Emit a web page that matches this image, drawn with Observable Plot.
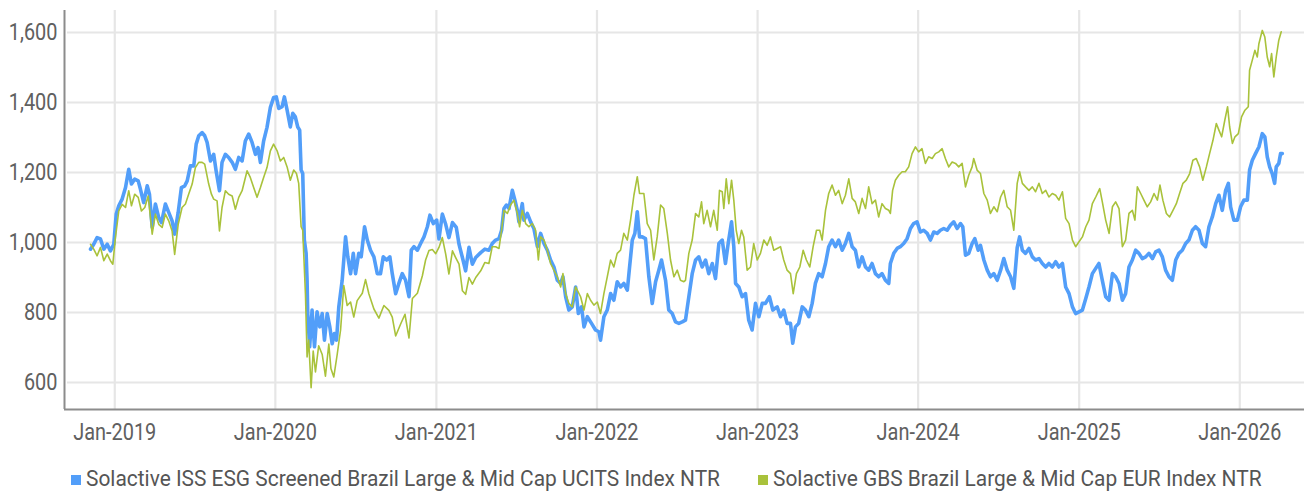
<!DOCTYPE html>
<html>
<head>
<meta charset="utf-8">
<script src="https://cdn.jsdelivr.net/npm/d3@7"></script>
<script src="https://cdn.jsdelivr.net/npm/@observablehq/plot@0.6"></script>
<style>
  html, body { margin: 0; padding: 0; background: #fff; }
  body { width: 1304px; height: 492px; overflow: hidden; font-family: Roboto, sans-serif; }
  #chart svg { display: block; }
  #legend { position: relative; height: 37px; font-size: 22px; color: #555; white-space: nowrap; }
  .item { position: absolute; top: 11px; height: 26px; }
  .swatch { position: absolute; left: 0; top: 9px; width: 10px; height: 10px; }
  .label { position: absolute; left: 15px; top: 0; line-height: 26px; display: inline-block; transform-origin: 0 50%; }
</style>
</head>
<body>
<div id="chart"></div>
<div id="legend"></div>
<script>
// ---- data (dates as decimal years) ----
const seriesNames = [
  "Solactive ISS ESG Screened Brazil Large & Mid Cap UCITS Index NTR",
  "Solactive GBS Brazil Large & Mid Cap EUR Index NTR"
];
const seriesColors = ["#529ef9", "#a9c23b"];

const issDates = [2018.849,2018.869,2018.890,2018.911,2018.932,2018.953,2018.973,2018.994,2019.009,2019.025,2019.046,2019.067,2019.087,2019.104,2019.124,2019.146,2019.160,2019.180,2019.202,2019.216,2019.233,2019.253,2019.274,2019.291,2019.315,2019.336,2019.357,2019.373,2019.395,2019.415,2019.436,2019.451,2019.471,2019.492,2019.507,2019.523,2019.544,2019.560,2019.575,2019.596,2019.616,2019.631,2019.652,2019.668,2019.689,2019.709,2019.731,2019.751,2019.772,2019.793,2019.813,2019.834,2019.855,2019.876,2019.892,2019.907,2019.927,2019.948,2019.969,2019.989,2020.006,2020.021,2020.042,2020.056,2020.073,2020.093,2020.108,2020.124,2020.139,2020.151,2020.160,2020.170,2020.180,2020.191,2020.197,2020.201,2020.213,2020.228,2020.243,2020.259,2020.276,2020.291,2020.305,2020.322,2020.338,2020.353,2020.367,2020.380,2020.394,2020.415,2020.436,2020.450,2020.467,2020.484,2020.498,2020.518,2020.533,2020.554,2020.571,2020.591,2020.612,2020.633,2020.653,2020.670,2020.691,2020.711,2020.726,2020.747,2020.767,2020.788,2020.809,2020.830,2020.844,2020.861,2020.882,2020.902,2020.923,2020.944,2020.960,2020.981,2021.002,2021.016,2021.037,2021.058,2021.078,2021.100,2021.124,2021.141,2021.162,2021.182,2021.203,2021.224,2021.245,2021.276,2021.302,2021.327,2021.348,2021.369,2021.390,2021.406,2021.421,2021.436,2021.452,2021.473,2021.489,2021.504,2021.514,2021.535,2021.545,2021.566,2021.587,2021.607,2021.629,2021.649,2021.670,2021.691,2021.711,2021.732,2021.753,2021.774,2021.788,2021.805,2021.825,2021.846,2021.867,2021.884,2021.904,2021.919,2021.940,2021.966,2021.991,2022.012,2022.022,2022.043,2022.064,2022.085,2022.105,2022.126,2022.147,2022.167,2022.189,2022.203,2022.220,2022.236,2022.251,2022.265,2022.282,2022.302,2022.323,2022.344,2022.365,2022.385,2022.402,2022.427,2022.447,2022.469,2022.489,2022.510,2022.531,2022.551,2022.572,2022.593,2022.614,2022.634,2022.655,2022.676,2022.696,2022.718,2022.738,2022.759,2022.780,2022.800,2022.817,2022.838,2022.852,2022.863,2022.883,2022.904,2022.925,2022.945,2022.966,2022.987,2023.008,2023.029,2023.049,2023.074,2023.095,2023.122,2023.143,2023.163,2023.184,2023.205,2023.219,2023.236,2023.256,2023.278,2023.298,2023.319,2023.340,2023.360,2023.381,2023.402,2023.423,2023.443,2023.464,2023.485,2023.505,2023.527,2023.547,2023.568,2023.589,2023.609,2023.630,2023.651,2023.672,2023.692,2023.713,2023.734,2023.754,2023.775,2023.796,2023.817,2023.827,2023.848,2023.869,2023.889,2023.910,2023.931,2023.952,2023.972,2023.993,2024.014,2024.034,2024.056,2024.076,2024.097,2024.118,2024.138,2024.159,2024.180,2024.200,2024.221,2024.242,2024.263,2024.277,2024.294,2024.314,2024.335,2024.352,2024.373,2024.387,2024.408,2024.429,2024.449,2024.470,2024.491,2024.512,2024.532,2024.553,2024.574,2024.594,2024.615,2024.630,2024.647,2024.667,2024.688,2024.709,2024.729,2024.750,2024.771,2024.792,2024.812,2024.833,2024.854,2024.874,2024.896,2024.916,2024.937,2024.958,2024.978,2024.999,2025.020,2025.041,2025.061,2025.082,2025.103,2025.123,2025.144,2025.165,2025.186,2025.207,2025.227,2025.248,2025.269,2025.289,2025.310,2025.331,2025.352,2025.372,2025.393,2025.414,2025.434,2025.456,2025.476,2025.497,2025.518,2025.538,2025.559,2025.580,2025.601,2025.621,2025.642,2025.663,2025.683,2025.705,2025.725,2025.746,2025.767,2025.787,2025.808,2025.829,2025.850,2025.870,2025.891,2025.912,2025.929,2025.943,2025.963,2025.985,2026.005,2026.026,2026.047,2026.061,2026.078,2026.098,2026.119,2026.140,2026.156,2026.171,2026.186,2026.202,2026.217,2026.227,2026.243,2026.254,2026.265];
const issValues = [981,995,1014,1010,981,995,976,995,1081,1105,1124,1157,1209,1167,1181,1176,1152,1114,1162,1138,1043,1110,1071,1057,1110,1086,1062,1024,1086,1157,1162,1176,1219,1219,1281,1305,1314,1305,1286,1233,1252,1205,1148,1229,1252,1243,1229,1209,1243,1233,1290,1310,1286,1252,1271,1229,1290,1329,1386,1414,1416,1383,1388,1416,1378,1330,1369,1359,1330,1321,1207,1197,1007,969,892,797,702,807,702,802,759,797,721,797,759,711,740,721,816,892,1016,959,911,969,911,969,959,1045,1007,978,959,911,911,959,950,959,911,854,883,911,892,845,978,988,978,997,1016,1045,1078,1054,1064,1010,1081,1052,1014,1057,1043,995,957,919,986,938,957,971,981,978,997,1007,1011,1035,1097,1107,1097,1149,1121,1092,1059,1111,1064,1083,1059,1040,988,1026,997,978,950,930,892,883,902,845,807,816,873,797,816,759,788,769,750,745,721,788,807,854,835,888,873,883,864,930,1007,1026,1088,1016,1016,1011,902,826,888,921,950,892,807,797,773,769,773,778,845,911,950,959,930,950,911,940,897,997,1007,940,997,1059,988,883,873,845,854,778,750,826,788,826,826,845,807,816,788,807,769,769,712,759,769,816,807,788,826,883,911,902,940,988,1007,988,1007,978,997,1026,988,978,930,959,930,921,940,911,902,911,892,883,940,969,983,988,997,1011,1040,1054,1059,1030,1035,1026,1007,1030,1026,1035,1040,1035,1049,1059,1040,1054,1045,964,969,997,1011,978,992,950,921,902,911,892,921,954,921,902,869,985,1016,978,969,983,959,950,954,940,930,940,930,945,930,940,873,854,816,797,802,807,840,873,911,926,940,892,845,835,911,902,883,835,854,930,950,978,969,954,959,969,954,973,978,959,921,902,892,950,969,978,997,1007,1035,1045,1035,997,988,1045,1073,1111,1135,1092,1149,1169,1102,1064,1064,1102,1121,1121,1207,1235,1254,1273,1311,1302,1245,1216,1197,1169,1216,1226,1254,1254];

const gbsDates = [2018.849,2018.869,2018.890,2018.911,2018.932,2018.953,2018.973,2018.988,2019.004,2019.025,2019.046,2019.067,2019.087,2019.104,2019.124,2019.146,2019.166,2019.187,2019.208,2019.233,2019.253,2019.274,2019.295,2019.315,2019.336,2019.357,2019.373,2019.395,2019.419,2019.440,2019.460,2019.482,2019.502,2019.523,2019.544,2019.560,2019.585,2019.602,2019.616,2019.637,2019.652,2019.668,2019.689,2019.709,2019.731,2019.751,2019.772,2019.793,2019.824,2019.844,2019.865,2019.886,2019.907,2019.927,2019.948,2019.969,2019.989,2020.011,2020.031,2020.052,2020.073,2020.093,2020.114,2020.131,2020.145,2020.160,2020.170,2020.187,2020.197,2020.207,2020.222,2020.235,2020.249,2020.269,2020.291,2020.311,2020.332,2020.345,2020.363,2020.384,2020.405,2020.425,2020.446,2020.467,2020.487,2020.508,2020.540,2020.560,2020.581,2020.612,2020.643,2020.674,2020.705,2020.726,2020.747,2020.778,2020.805,2020.830,2020.851,2020.882,2020.913,2020.933,2020.954,2020.975,2020.996,2021.016,2021.037,2021.058,2021.078,2021.100,2021.120,2021.141,2021.162,2021.182,2021.203,2021.224,2021.245,2021.276,2021.302,2021.327,2021.348,2021.369,2021.390,2021.406,2021.421,2021.442,2021.462,2021.483,2021.504,2021.518,2021.535,2021.556,2021.576,2021.597,2021.618,2021.635,2021.649,2021.670,2021.691,2021.711,2021.732,2021.753,2021.774,2021.788,2021.805,2021.825,2021.846,2021.867,2021.898,2021.919,2021.940,2021.960,2021.981,2022.002,2022.022,2022.043,2022.064,2022.085,2022.105,2022.126,2022.147,2022.167,2022.189,2022.209,2022.230,2022.251,2022.265,2022.292,2022.313,2022.334,2022.354,2022.375,2022.396,2022.416,2022.438,2022.458,2022.479,2022.500,2022.520,2022.541,2022.551,2022.572,2022.593,2022.614,2022.634,2022.651,2022.665,2022.686,2022.707,2022.727,2022.749,2022.763,2022.780,2022.790,2022.805,2022.821,2022.838,2022.852,2022.867,2022.883,2022.900,2022.914,2022.935,2022.956,2022.976,2022.998,2023.018,2023.039,2023.060,2023.080,2023.101,2023.122,2023.143,2023.163,2023.184,2023.205,2023.222,2023.242,2023.263,2023.284,2023.304,2023.325,2023.346,2023.367,2023.387,2023.402,2023.423,2023.443,2023.464,2023.485,2023.505,2023.527,2023.547,2023.568,2023.589,2023.609,2023.630,2023.651,2023.672,2023.692,2023.713,2023.734,2023.754,2023.775,2023.796,2023.817,2023.827,2023.841,2023.858,2023.879,2023.900,2023.920,2023.941,2023.962,2023.983,2024.003,2024.024,2024.045,2024.065,2024.087,2024.107,2024.128,2024.149,2024.169,2024.190,2024.211,2024.232,2024.252,2024.273,2024.294,2024.314,2024.335,2024.345,2024.367,2024.387,2024.408,2024.429,2024.449,2024.470,2024.491,2024.512,2024.532,2024.553,2024.574,2024.594,2024.615,2024.630,2024.647,2024.667,2024.688,2024.709,2024.729,2024.750,2024.771,2024.792,2024.812,2024.833,2024.854,2024.874,2024.896,2024.916,2024.937,2024.958,2024.978,2024.999,2025.020,2025.041,2025.061,2025.082,2025.103,2025.128,2025.144,2025.165,2025.186,2025.207,2025.227,2025.248,2025.269,2025.289,2025.310,2025.331,2025.347,2025.362,2025.383,2025.403,2025.424,2025.445,2025.466,2025.487,2025.503,2025.521,2025.543,2025.563,2025.584,2025.605,2025.625,2025.646,2025.667,2025.688,2025.708,2025.729,2025.750,2025.770,2025.792,2025.812,2025.833,2025.854,2025.870,2025.887,2025.907,2025.924,2025.937,2025.954,2025.970,2025.991,2026.011,2026.032,2026.053,2026.061,2026.078,2026.094,2026.109,2026.119,2026.140,2026.156,2026.171,2026.186,2026.198,2026.212,2026.227,2026.243,2026.258];
const gbsValues = [995,981,962,986,948,967,948,938,1014,1090,1109,1100,1148,1105,1138,1129,1090,1100,1133,1024,1081,1052,1043,1081,1062,1033,966,1052,1100,1110,1138,1167,1214,1229,1229,1224,1167,1138,1124,1119,1033,1100,1148,1138,1133,1095,1129,1148,1205,1186,1157,1129,1157,1186,1214,1262,1281,1262,1233,1243,1216,1178,1207,1197,1169,1045,1035,850,673,721,585,690,630,705,680,618,710,640,616,680,750,877,820,830,787,834,855,894,853,810,784,820,806,787,733,767,795,727,840,855,905,950,977,980,968,986,1014,967,910,976,957,938,862,852,900,881,900,919,943,940,988,988,983,1035,1092,1083,1107,1121,1083,1045,1092,1054,1045,1054,1035,950,1016,1007,978,940,921,902,873,911,854,826,816,873,845,807,854,835,821,830,797,854,902,950,930,969,978,1026,1007,1064,1135,1188,1140,1140,1054,1035,950,1016,1107,1097,1026,950,902,921,892,888,892,969,1007,1083,1073,1116,1054,1092,1045,1092,1035,1149,1145,1097,1182,1111,1178,1121,1035,997,1035,1016,921,930,997,950,969,1007,992,1016,978,983,988,950,921,911,854,911,930,978,950,930,988,1035,1035,1007,1092,1140,1164,1135,1149,1111,1135,1182,1126,1116,1083,1126,1097,1159,1111,1121,1073,1111,1097,1092,1083,1149,1178,1192,1202,1202,1216,1254,1273,1259,1268,1226,1245,1240,1254,1259,1268,1240,1216,1230,1226,1216,1226,1159,1192,1216,1240,1206,1197,1140,1121,1083,1102,1088,1130,1149,1102,1092,1035,1169,1202,1169,1159,1149,1159,1145,1169,1140,1149,1130,1140,1135,1121,1145,1069,1054,1007,988,1002,1016,1045,1064,1111,1130,1154,1116,1064,1026,1102,1116,1097,988,1007,1083,1092,1064,1159,1140,1121,1102,1116,1140,1121,1164,1121,1083,1073,1092,1111,1140,1169,1178,1197,1235,1240,1216,1178,1216,1254,1292,1340,1321,1302,1350,1388,1330,1283,1302,1311,1359,1378,1388,1492,1521,1549,1530,1568,1606,1587,1530,1502,1540,1473,1530,1578,1602];

const yTicks = [600, 800, 1000, 1200, 1400, 1600];
const xTickYears = [2019, 2020, 2021, 2022, 2023, 2024, 2025, 2026];
const xDomainYears = [2018.687, 2026.403];
const yDomain = [522.86, 1662.86];

// ---- helpers ----
function fromDecimalYear(t) {
  const y = Math.floor(t);
  const a = Date.UTC(y, 0, 1), b = Date.UTC(y + 1, 0, 1);
  return new Date(a + (t - y) * (b - a));
}
const issData = issDates.map((t, i) => ({date: fromDecimalYear(t), value: issValues[i]}));
const gbsData = gbsDates.map((t, i) => ({date: fromDecimalYear(t), value: gbsValues[i]}));
const xTicks = xTickYears.map(y => new Date(Date.UTC(y, 0, 1)));

const chart = Plot.plot({
  width: 1304,
  height: 455,
  marginLeft: 64,
  marginRight: 0,
  marginTop: 10,
  marginBottom: 46,
  style: {fontFamily: "Roboto, sans-serif", fontSize: "24px", color: "#606060", background: "#fff"},
  x: {type: "utc", domain: xDomainYears.map(fromDecimalYear)},
  y: {domain: yDomain},
  marks: [
    Plot.ruleY(yTicks, {stroke: "#e6e6e6", strokeWidth: 2.2, insetLeft: 3}),
    Plot.ruleX(xTicks, {stroke: "#e6e6e6", strokeWidth: 2.2}),
    Plot.axisY({ticks: yTicks, tickSize: 0, tickPadding: 7, tickFormat: d3.format(","), label: null, fontSize: 24}),
    Plot.axisX({ticks: xTicks, tickSize: 0, tickPadding: 13, tickFormat: d3.utcFormat("%b-%Y"), label: null, fontSize: 24}),
    Plot.line(issData, {x: "date", y: "value", stroke: seriesColors[0], strokeWidth: 3.6, curve: "linear"}),
    Plot.line(gbsData, {x: "date", y: "value", stroke: seriesColors[1], strokeWidth: 1.6, curve: "linear"}),
    Plot.ruleX([xDomainYears[0]].map(fromDecimalYear), {stroke: "#8c8c8c", strokeWidth: 2}),
    Plot.ruleY([yDomain[0]], {stroke: "#8c8c8c", strokeWidth: 2})
  ]
});
document.getElementById("chart").appendChild(chart);

// condense tick labels horizontally (reference uses a condensed face)
const condense = 0.83;
chart.querySelectorAll('g[aria-label$="tick label"] text').forEach(t => {
  const tr = t.getAttribute("transform") || "";
  t.setAttribute("transform", tr + ` scale(${condense},1)`);
});

const legend = document.getElementById("legend");
const legendLeft = [71, 758];
seriesNames.forEach((name, i) => {
  const item = document.createElement("div");
  item.className = "item";
  item.style.left = legendLeft[i] + "px";
  const sw = document.createElement("span");
  sw.className = "swatch";
  sw.style.background = seriesColors[i];
  const label = document.createElement("span");
  label.className = "label";
  label.textContent = name;
  item.appendChild(sw);
  item.appendChild(label);
  legend.appendChild(item);
});
// match the reference legend text width
const firstLabel = legend.querySelector(".label");
const natural = firstLabel.getBoundingClientRect().width;
const s = natural > 0 ? 634 / natural : condense;
legend.querySelectorAll(".label").forEach(l => l.style.transform = `scaleX(${s})`);
</script>
</body>
</html>
